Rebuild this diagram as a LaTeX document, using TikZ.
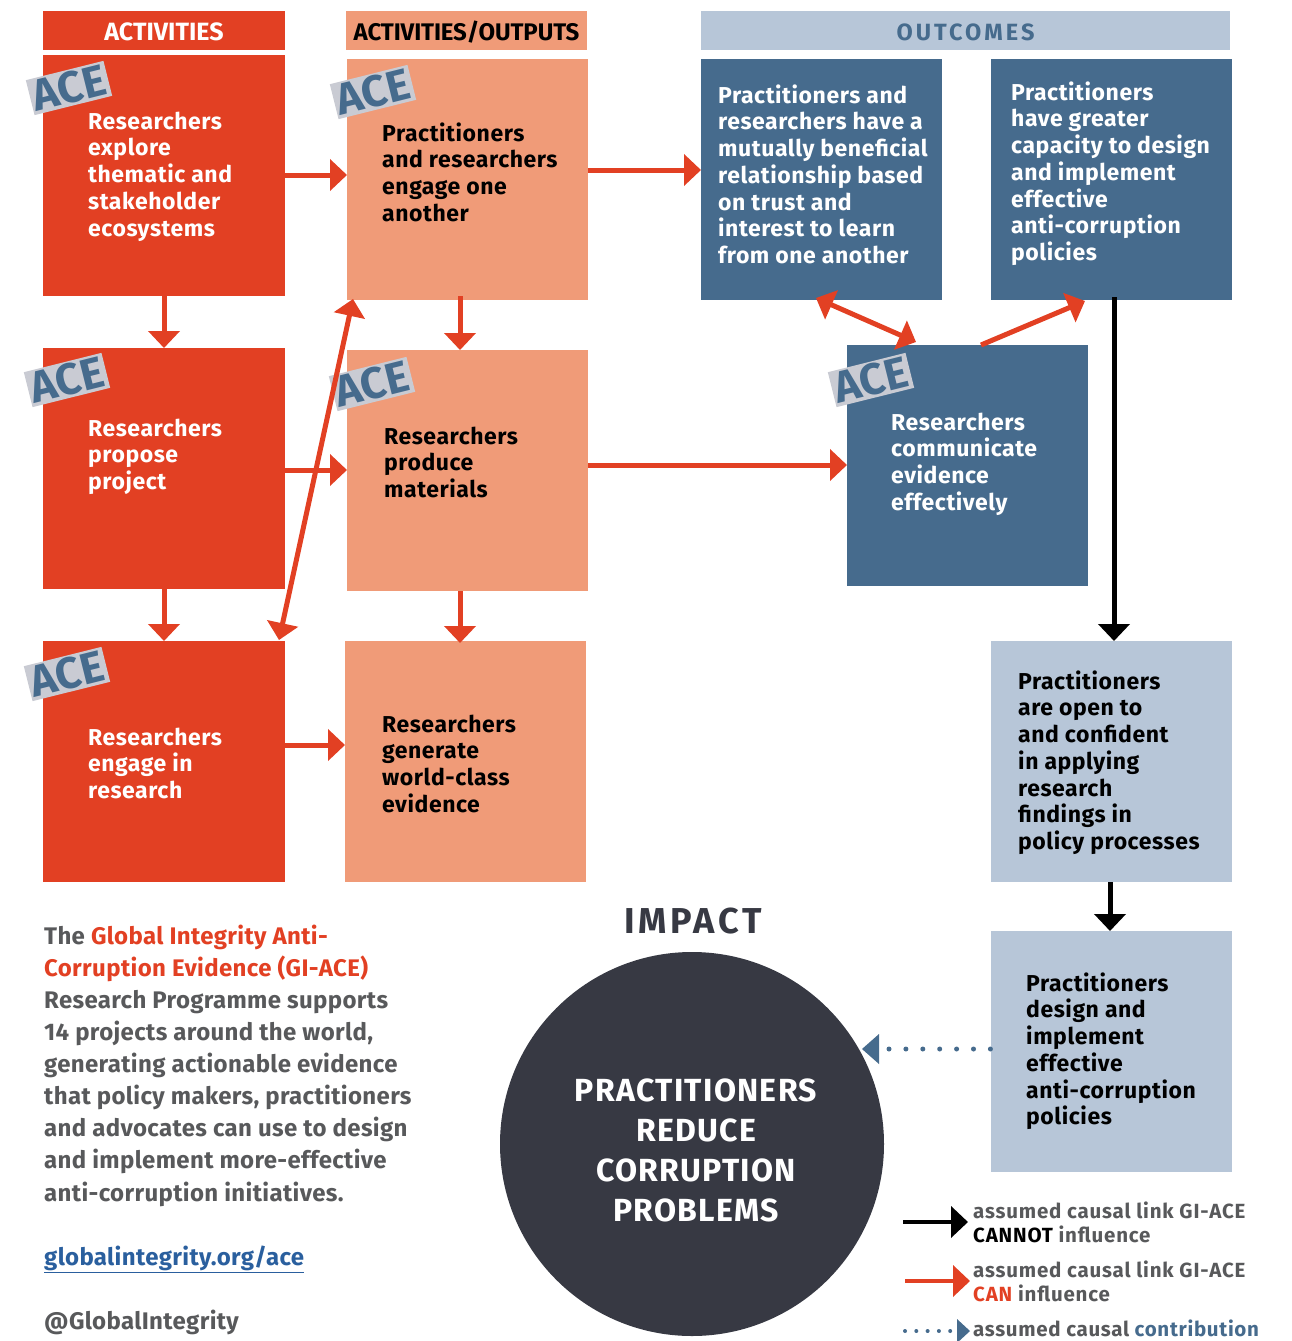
\documentclass[tikz,border=0pt]{standalone}
\usepackage{fontspec}
\setmainfont{Fira Sans}
\usetikzlibrary{arrows.meta,calc}
\definecolor{cred}{HTML}{E24023}
\definecolor{csal}{HTML}{F09B78}
\definecolor{cblue}{HTML}{466B8D}
\definecolor{clight}{HTML}{B7C6D8}
\definecolor{cdark}{HTML}{373943}
\definecolor{cgray}{HTML}{58595B}
\definecolor{ctag}{HTML}{C9CBD3}
\definecolor{clink}{HTML}{2A5F9E}
\newcommand{\fl}{\rule{0pt}{20pt}}
\newcommand{\dn}[1]{\raisebox{-10pt}[9pt][9pt]{#1}}
\newcommand{\acetxt}{\raisebox{-15.5pt}[15pt][15pt]{ACE}}
\tikzset{
 boxn/.style={anchor=north west,inner sep=0pt,minimum width=241pt,minimum height=241pt,outer sep=0pt},
 headn/.style={anchor=north west,inner sep=0pt,minimum height=39pt,outer sep=0pt},
 txt/.style={anchor=north west,inner sep=0pt,align=left,font=\fontsize{23}{26.7}\selectfont\bfseries\addfontfeature{LetterSpace=2.4}},
 tag/.style={fill=ctag,text=cblue,rotate=14,inner sep=0pt,minimum width=80pt,minimum height=36pt,font=\fontsize{44}{44}\selectfont\bfseries},
 redarrow/.style={draw=cred,line width=5pt,-{Triangle[length=17pt,width=31pt]}},
 redboth/.style={draw=cred,line width=5pt,{Triangle[length=17pt,width=31pt]}-{Triangle[length=17pt,width=31pt]}},
 blackarrow/.style={draw=black,line width=5pt,-{Triangle[length=17pt,width=31pt]}},
 dotarrow/.style={draw=cblue,line width=5pt,line cap=round,dash pattern=on 0pt off 16.9pt},
 legtxt/.style={anchor=north west,inner sep=0pt,align=left,text=cgray,font=\fontsize{20.5}{24}\selectfont\bfseries\addfontfeature{LetterSpace=4}},
 bodytxt/.style={anchor=north west,inner sep=0pt,align=left,font=\fontsize{24}{32.1}\selectfont\bfseries\addfontfeature{LetterSpace=1.5}},
}
\begin{document}
\begin{tikzpicture}[x=1pt,y=-1pt]
\useasboundingbox (0,0) rectangle (1291,1341);
% headers
\node[headn,fill=cred,minimum width=242pt,text=white,font=\fontsize{25}{25}\selectfont\bfseries] (h1) at (43,11) {\dn{ACTIVITIES}};
\node[headn,fill=csal,minimum width=241pt,text=black,font=\fontsize{24}{24}\selectfont\bfseries\addfontfeature{LetterSpace=-0.5}] (h2) at (346,11) {\dn{ACTIVITIES/OUTPUTS}};
\node[headn,fill=clight,minimum width=529pt,text=cblue,font=\fontsize{23.5}{23.5}\selectfont\bfseries\addfontfeature{LetterSpace=13}] (h3) at (701,11) {\dn{OUTCOMES}};
% boxes
\node[boxn,fill=cred,minimum width=242pt] (a1) at (43,55) {};
\node[boxn,fill=cred,minimum width=242pt] (a2) at (43,348) {};
\node[boxn,fill=cred,minimum width=242pt] (a3) at (43,641) {};
\node[boxn,fill=csal] (o1) at (347,59) {};
\node[boxn,fill=csal] (o2) at (347,350) {};
\node[boxn,fill=csal] (o3) at (345,641) {};
\node[boxn,fill=cblue] (b1) at (701,59) {};
\node[boxn,fill=cblue] (b2) at (991,59) {};
\node[boxn,fill=cblue] (b3) at (847,345) {};
\node[boxn,fill=clight] (l1) at (991,641) {};
\node[boxn,fill=clight] (l2) at (991,931) {};
\node[circle,fill=cdark,minimum size=384pt,inner sep=0pt,outer sep=0pt] (imp) at (692,1144) {};
% box texts
\node[txt,text=white] (a1t) at (88,109) {\fl Researchers\\explore\\thematic and\\stakeholder\\ecosystems};
\node[txt,text=white] (a2t) at (88,416) {\fl Researchers\\propose\\project};
\node[txt,text=white] (a3t) at (88,725) {\fl Researchers\\engage in\\research};
\node[txt,text=black] (o1t) at (382,121) {\fl Practitioners\\and researchers\\engage one\\another};
\node[txt,text=black] (o2t) at (384,424) {\fl Researchers\\produce\\materials};
\node[txt,text=black] (o3t) at (382,712) {\fl Researchers\\generate\\world-class\\evidence};
\node[txt,text=white] (b1t) at (718,83) {\fl Practitioners and\\researchers have a\\mutually beneficial\\relationship based\\on trust and\\interest to learn\\from one another};
\node[txt,text=white] (b2t) at (1011,80) {\fl Practitioners\\have greater\\capacity to design\\and implement\\effective\\anti-corruption\\policies};
\node[txt,text=white] (b3t) at (891,410) {\fl Researchers\\communicate\\evidence\\effectively};
\node[txt,text=black] (l1t) at (1018,669) {\fl Practitioners\\are open to\\and confident\\in applying\\research\\findings in\\policy processes};
\node[txt,text=black] (l2t) at (1026,971) {\fl Practitioners\\design and\\implement\\effective\\anti-corruption\\policies};
% ACE tags
\node[tag] (t1) at (69,88) {\acetxt};
\node[tag] (t2) at (373,92) {\acetxt};
\node[tag] (t3) at (67,380) {\acetxt};
\node[tag] (t4) at (372,384) {\acetxt};
\node[tag] (t5) at (67,674) {\acetxt};
\node[tag] (t6) at (871,380) {\acetxt};
% connectors
\draw[redarrow] (a1.east |- 0,175) -- (o1.west |- 0,175);
\draw[redarrow] (a2.east |- 0,470) -- (o2.west |- 0,470);
\draw[redarrow] (a3.east |- 0,745) -- (o3.west |- 0,745);
\draw[redarrow] (o1.east |- 0,170) -- (b1.west |- 0,170);
\draw[redarrow] (o2.east |- 0,465) -- (b3.west |- 0,465);
\draw[redarrow] (164,296) -- (164,348);
\draw[redarrow] (164,589) -- (164,641);
\draw[redarrow] (460,296) -- (460,350);
\draw[redarrow] (460,591) -- (460,643);
\coordinate (d1) at (279,640);
\coordinate (d2) at (353,299);
\draw[redboth] (d1) -- (d2);
\coordinate (e1) at (816,298);
\coordinate (e2) at (916,342);
\draw[redboth] (e1) -- (e2);
\coordinate (f1) at (981,345);
\coordinate (f2) at (1085,301);
\draw[redarrow] (f1) -- (f2);
\draw[blackarrow] (1114,297) -- (1114,641);
\draw[blackarrow] (1110,882) -- (1110,931);
\coordinate (g1) at (879,1049);
\coordinate (g2) at (862,1049);
\coordinate (g3) at (889,1049);
\draw[dotarrow] (g3) -- (l2.west |- 0,1049);
\fill[cblue] (g2) -- (g1 |- 0,1034) -- (g1 |- 0,1064) -- cycle;
% impact
\node[inner sep=0pt,text=cdark,font=\fontsize{36}{36}\selectfont\bfseries\addfontfeature{LetterSpace=10}] (it) at (693,921) {IMPACT};
\node[inner sep=0pt,align=center,text=white,font=\fontsize{32}{40}\selectfont\bfseries\addfontfeature{LetterSpace=4}] (ic) at (696,1150) {PRACTITIONERS\\REDUCE\\CORRUPTION\\PROBLEMS};
% left text
\node[bodytxt,text=cgray] (p1) at (44,924) {\fl The {\color{cred}Global Integrity Anti-}\\{\color{cred}Corruption Evidence (GI-ACE)}\\Research Programme supports\\14 projects around the world,\\generating actionable evidence\\that policy makers, practitioners\\and advocates can use to design\\and implement more-effective\\anti-corruption initiatives.};
\node[bodytxt,text=clink] (p2) at (44,1245) {\fl \underline{globalintegrity.org/ace}};
\node[bodytxt,text=cgray] (p3) at (44,1309) {\fl @GlobalIntegrity};
% legend
\coordinate (k1) at (903,1222); \coordinate (k2) at (968,1222);
\draw[blackarrow,line width=4pt] (k1) -- (k2);
\coordinate (k3) at (905,1281); \coordinate (k4) at (970,1281);
\draw[redarrow,line width=4pt] (k3) -- (k4);
\coordinate (k5) at (905,1331); \coordinate (k6) at (957,1331); \coordinate (k7) at (970,1331);
\draw[dotarrow,line width=4pt,dash pattern=on 0pt off 11.3pt] (k5) -- (951,1331);
\fill[cblue] (k7) -- (k6 |- 0,1319) -- (k6 |- 0,1343) -- cycle;
\node[legtxt] (m1) at (973,1202) {assumed causal link GI-ACE\\{\color{black}CANNOT} influence};
\node[legtxt] (m2) at (973,1261) {assumed causal link GI-ACE\\{\color{cred}CAN} influence};
\node[legtxt,font=\fontsize{20.5}{24}\selectfont\bfseries\addfontfeature{LetterSpace=3.4}] (m3) at (973,1320) {assumed causal {\color{cblue}contribution}};
\end{tikzpicture}
\end{document}
